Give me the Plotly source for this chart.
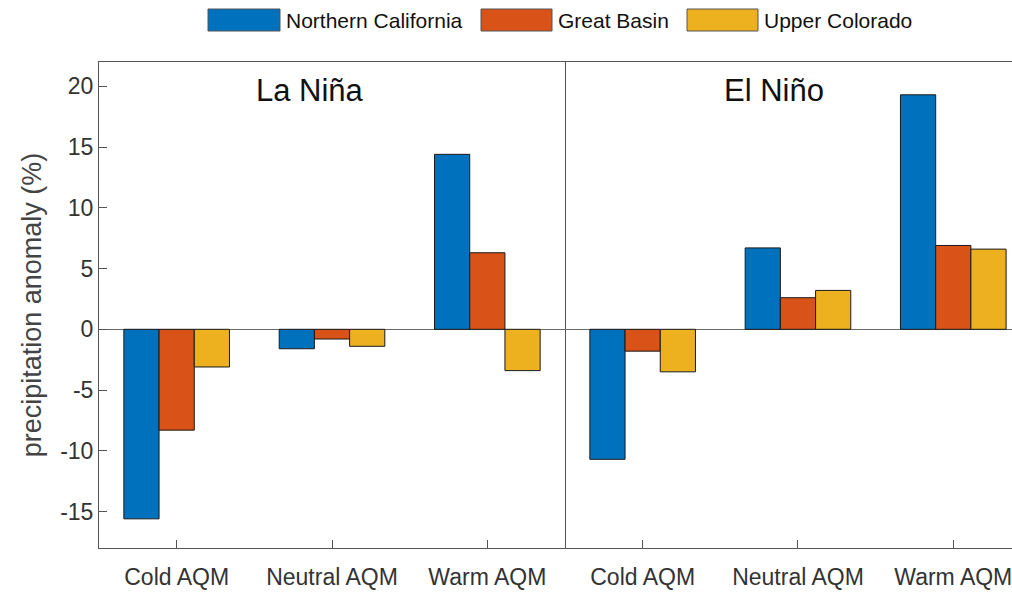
import plotly.graph_objects as go

categories = ["Cold AQM", "Neutral AQM", "Warm AQM"]
series_names = ["Northern California", "Great Basin", "Upper Colorado"]
series_colors = ["#0072BD", "#D95319", "#EDB120"]

# La Niña panel values (%)
lanina_norcal = [-15.6, -1.6, 14.4]
lanina_basin = [-8.3, -0.8, 6.3]
lanina_upco = [-3.1, -1.4, -3.4]

# El Niño panel values (%)
elnino_norcal = [-10.7, 6.7, 19.3]
elnino_basin = [-1.8, 2.6, 6.9]
elnino_upco = [-3.5, 3.2, 6.6]

yticks = [-15, -10, -5, 0, 5, 10, 15, 20]
ytick_text = ["-15", "-10", "-5", "0", "5", "10", "15", "20"]

FONT = "Liberation Sans, Arial, sans-serif"
AXC = "#555555"
TXT = "#333333"

fig = go.Figure()

panels = [
    ("x", "y", [lanina_norcal, lanina_basin, lanina_upco]),
    ("x2", "y2", [elnino_norcal, elnino_basin, elnino_upco]),
]
for xa, ya, vals in panels:
    for name, color, v in zip(series_names, series_colors, vals):
        fig.add_trace(go.Bar(
            x=categories, y=v, name=name, xaxis=xa, yaxis=ya,
            marker=dict(color=color, line=dict(color="#1a1a1a", width=1)),
            showlegend=False,
        ))

split = 466 / 913.0
yrange = [-18, 22]

xcommon = dict(
    showline=True, linecolor=AXC, linewidth=1, mirror=True,
    ticks="inside", ticklen=8, tickcolor=AXC, ticklabelstandoff=8,
    tickfont=dict(size=23, color=TXT), showgrid=False,
)

fig.update_layout(
    width=1012, height=592,
    margin=dict(l=99, r=0, t=62, b=44),
    paper_bgcolor="white", plot_bgcolor="white",
    barmode="group", bargap=0.32, bargroupgap=0,
    font=dict(family=FONT, color=TXT),
    xaxis=dict(domain=[0, split], range=[-0.5, 2.5], anchor="y", **xcommon),
    xaxis2=dict(domain=[split, 1], range=[-0.5, 2.378], anchor="y2", **xcommon),
    yaxis=dict(
        range=yrange, anchor="x", tickvals=yticks, ticktext=ytick_text,
        showline=True, linecolor=AXC, linewidth=1, mirror=True,
        ticks="inside", ticklen=8, tickcolor=AXC,
        tickfont=dict(size=23, color=TXT), showgrid=False,
        zeroline=True, zerolinecolor="#6a6a6a", zerolinewidth=1,
        title=dict(text="precipitation anomaly (%)", font=dict(size=27, color="#444444"), standoff=10),
    ),
    yaxis2=dict(
        range=yrange, anchor="x2", matches="y", showticklabels=False,
        showline=False, ticks="", showgrid=False,
        zeroline=True, zerolinecolor="#6a6a6a", zerolinewidth=1,
    ),
)

# panel titles
fig.add_annotation(text="La Niña", xref="x domain", yref="y domain", x=0.453, y=0.942,
                   showarrow=False, font=dict(size=31, color="#111111"), yanchor="middle")
fig.add_annotation(text="El Niño", xref="x2 domain", yref="y domain", x=0.468, y=0.942,
                   showarrow=False, font=dict(size=31, color="#111111"), yanchor="middle")

# legend with wide colour swatches along the top
plot_w, plot_h = 913.0, 486.0
def px_to_paper(px, py):
    return (px - 99) / plot_w, (548 - py) / plot_h

legend_items = [(208, 280, 284), (481, 552, 556), (687, 758, 762)]
for (x0, x1, tx), name, color in zip(legend_items, series_names, series_colors):
    ax0, ay0 = px_to_paper(x0, 31)
    ax1, ay1 = px_to_paper(x1, 9)
    fig.add_shape(type="rect", xref="paper", yref="paper", x0=ax0, x1=ax1, y0=ay0, y1=ay1,
                  fillcolor=color, line=dict(color="#555555", width=1))
    tx_p, ty_p = px_to_paper(tx, 20)
    fig.add_annotation(text=name, xref="paper", yref="paper", x=tx_p, y=ty_p,
                       xanchor="left", yanchor="middle", showarrow=False,
                       font=dict(size=21, color="#111111"))

fig.write_html("out.html")
